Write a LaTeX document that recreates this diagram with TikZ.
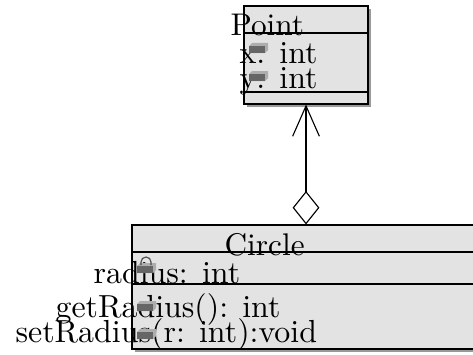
\documentclass[tikz,border=0pt]{standalone}
\usetikzlibrary{arrows.meta,shadows}
\tikzset{
  classbox/.style={draw, fill=black!11, inner sep=0pt, general shadow={shadow xshift=0.9pt, shadow yshift=-0.9pt, fill=black!40}},
  member/.style={anchor=base west, inner sep=0pt, font=\fontsize{10.5}{12}\selectfont},
  title/.style={anchor=base west, inner sep=0pt, font=\fontsize{10.3}{12}\selectfont},
  pics/visicon/.style={code={
    \fill[black!32] (0,0) -- (16,0) -- (19,3) -- (19,10) -- (3,10) -- (0,7) -- cycle;
    \fill[black!60] (0,0) rectangle (16,7);
  }},
  pics/lockarc/.style={code={
    \draw[black!70] (4,0) -- (4,3) arc (180:0:5) -- (14,0);
  }}
}
\begin{document}
\begin{tikzpicture}[x=0.329pt, y=0.329pt, line width=0.37pt]
\useasboundingbox (0,0) rectangle (473,354);
\node[classbox, minimum width=40.8pt, minimum height=32.2pt] (Point) at (306,299) {};
\node[classbox, minimum width=114.5pt, minimum height=40.8pt] (Circle) at (306,67) {};
\draw (Point.west |- 0,321) -- (Point.east |- 0,321);
\draw (Point.west |- 0,262) -- (Point.east |- 0,262);
\draw (Circle.west |- 0,102) -- (Circle.east |- 0,102);
\draw (Circle.west |- 0,70) -- (Circle.east |- 0,70);
\draw [{Diamond[open, length=11pt, width=8.8pt]}-{Straight Barb[length=10pt, width=8.8pt]}] (Circle.north) -- (Point.south);
\node[title] (PointName) at (230,318) {Point};
\node[member] (AttrX) at (239,291) {x: int};
\node[member] (AttrY) at (239,266) {y: int};
\node[title] (CircleName) at (224,99) {Circle};
\node[member] (AttrR) at (93,71) {radius: int};
\node[member] (GetR) at (55,37) {getRadius(): int};
\node[member] (SetR) at (15,12) {setRadius(r: int):void};
\pic at (249,301) {visicon};
\pic at (249,273) {visicon};
\pic at (137,81) {visicon};
\pic at (137,89) {lockarc};
\pic at (137,43) {visicon};
\pic at (137,15) {visicon};
\end{tikzpicture}
\end{document}
